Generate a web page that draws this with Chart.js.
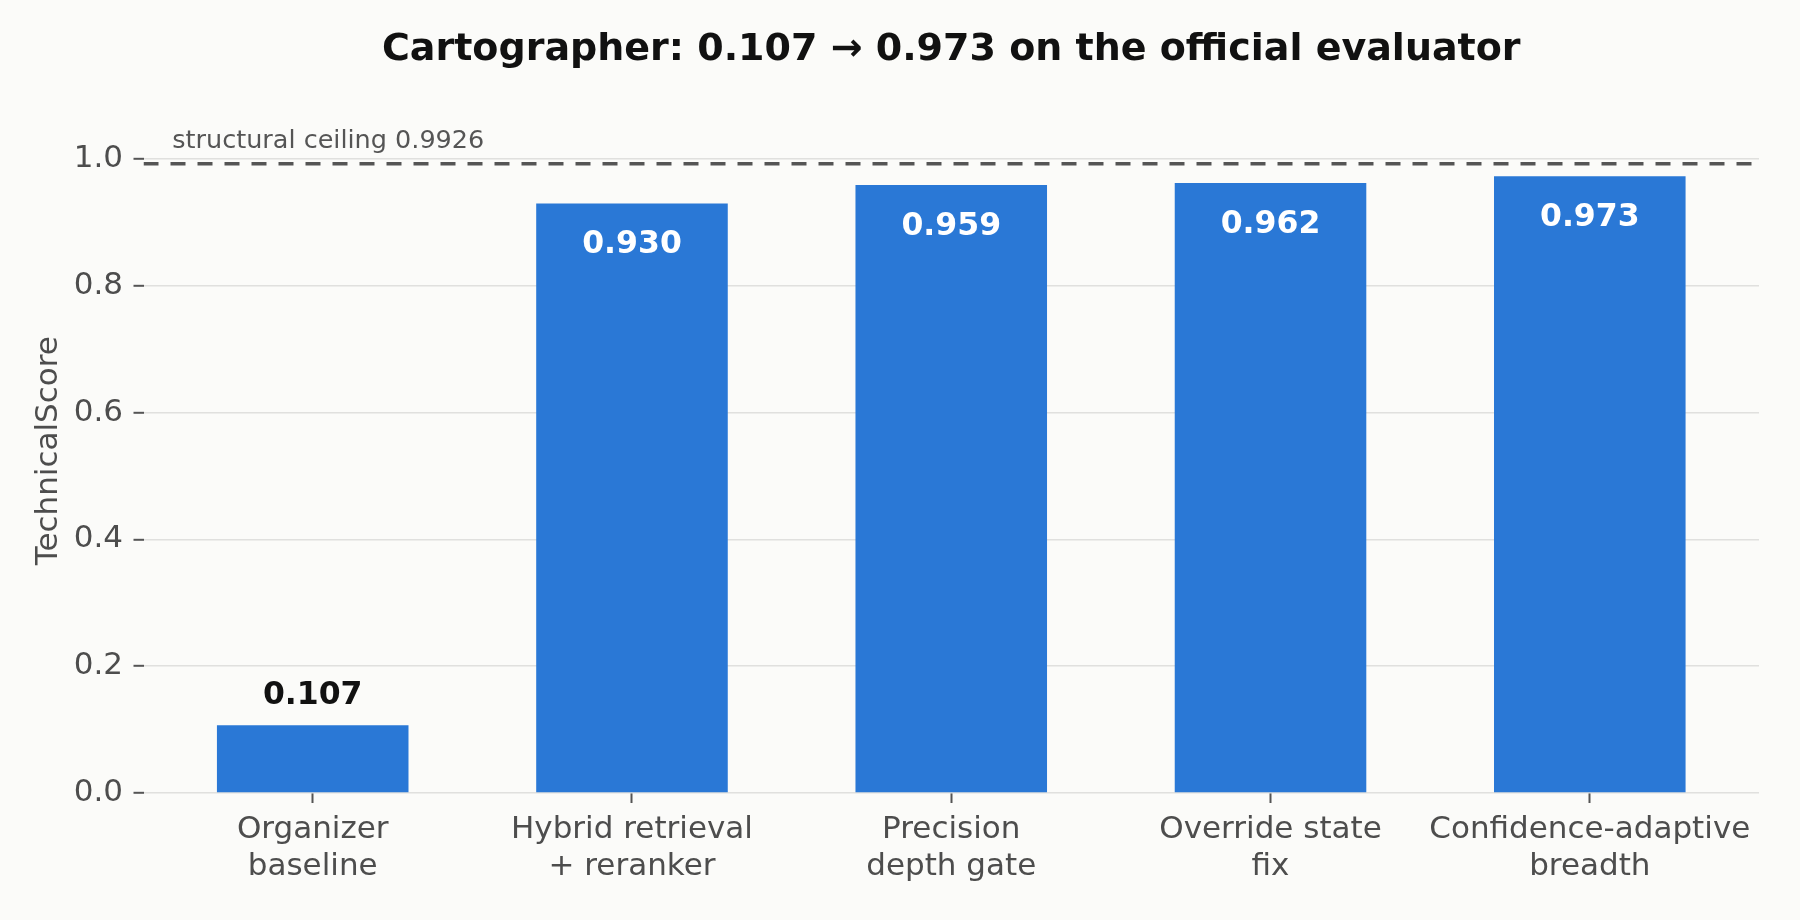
<!DOCTYPE html>
<html>
<head>
<meta charset="utf-8">
<script src="https://cdn.jsdelivr.net/npm/chart.js@4.4.1/dist/chart.umd.min.js"></script>
<style>
    html, body { margin: 0; padding: 0; background: #fbfbf9; }
    #wrap { width: 1800px; height: 920px; }
</style>
</head>
<body>
<div id="wrap"><canvas id="scoreChart" width="1800" height="920"></canvas></div>
<script>
// --- DATA ---
const categories = [
    ['Organizer', 'baseline'],
    ['Hybrid retrieval', '+ reranker'],
    ['Precision', 'depth gate'],
    ['Override state', 'fix'],
    ['Confidence-adaptive', 'breadth']
];
const scores = [0.107, 0.930, 0.959, 0.962, 0.973];
const yTicks = [0, 0.2, 0.4, 0.6, 0.8, 1.0];
const ceiling = 0.9926;
const ceilingLabel = 'structural ceiling 0.9926';
const chartTitle = 'Cartographer: 0.107 \u2192 0.973 on the official evaluator';
const yLabel = 'TechnicalScore';

const X_MIN = -0.53, X_MAX = 4.53, Y_MAX = 1.08;
const FONT = '"DejaVu Sans", sans-serif';
const BAR_BLUE = '#2a78d6';
const TEXT_GREY = '#4d4d4d';

// value labels on bars + ceiling caption
const labelPlugin = {
    id: 'barLabels',
    afterDatasetsDraw(chart) {
        const ctx = chart.ctx;
        const meta = chart.getDatasetMeta(0);
        ctx.save();
        ctx.font = `bold 31.5px ${FONT}`;
        ctx.textAlign = 'center';
        ctx.textBaseline = 'alphabetic';
        meta.data.forEach((bar, i) => {
            const v = scores[i];
            if (v > 0.5) {
                ctx.fillStyle = '#ffffff';
                ctx.fillText(v.toFixed(3), bar.x, bar.y + 49.5);
            } else {
                ctx.fillStyle = '#111111';
                ctx.fillText(v.toFixed(3), bar.x, bar.y - 21);
            }
        });

        const xs = chart.scales.x, ys = chart.scales.y;
        ctx.font = `25.5px ${FONT}`;
        ctx.textAlign = 'left';
        ctx.fillStyle = '#555555';
        ctx.fillText(ceilingLabel, xs.getPixelForValue(-0.44), ys.getPixelForValue(ceiling) - 15.5);
        ctx.restore();
    }
};

new Chart(document.getElementById('scoreChart').getContext('2d'), {
    type: 'bar',
    data: {
        datasets: [{
            type: 'bar',
            data: scores.map((v, i) => ({ x: i, y: v })),
            backgroundColor: BAR_BLUE,
            borderWidth: 0,
            categoryPercentage: 1.0,
            barPercentage: 0.6,
            order: 2
        }, {
            type: 'line',
            data: [{ x: X_MIN, y: ceiling }, { x: X_MAX, y: ceiling }],
            borderColor: '#555555',
            borderWidth: 3.6,
            borderDash: [15, 12],
            pointRadius: 0,
            fill: false,
            order: 1
        }]
    },
    options: {
        responsive: false,
        animation: false,
        devicePixelRatio: 1,
        layout: { padding: { left: 0, right: 41, top: 0, bottom: 0 } },
        plugins: {
            legend: { display: false },
            tooltip: { enabled: false },
            title: {
                display: true,
                text: chartTitle,
                fullSize: false,
                color: '#111111',
                font: { family: FONT, size: 38, weight: 'bold' },
                padding: { top: 27, bottom: 35.7 }
            }
        },
        scales: {
            x: {
                type: 'linear',
                min: X_MIN,
                max: X_MAX,
                offset: false,
                afterBuildTicks: axis => { axis.ticks = categories.map((c, i) => ({ value: i })); },
                afterFit: axis => { axis.height = 127; },
                border: { display: false },
                grid: {
                    offset: false,
                    drawOnChartArea: false,
                    drawTicks: true,
                    tickLength: 10,
                    tickColor: '#555555',
                    tickWidth: 2
                },
                ticks: {
                    color: TEXT_GREY,
                    padding: 8.6,
                    maxRotation: 0,
                    autoSkip: false,
                    font: { family: FONT, size: 31, lineHeight: 1.2 },
                    callback: v => categories[v]
                }
            },
            y: {
                min: 0,
                max: Y_MAX,
                afterBuildTicks: axis => { axis.ticks = yTicks.map(v => ({ value: v })); },
                afterFit: axis => { axis.width = 143.5; },
                border: { display: false },
                grid: {
                    color: '#e0e0de',
                    lineWidth: 1.6,
                    drawTicks: true,
                    tickLength: 10,
                    tickColor: '#555555',
                    tickWidth: 2
                },
                ticks: {
                    color: TEXT_GREY,
                    padding: 10.5,
                    font: { family: FONT, size: 31 },
                    callback: v => v.toFixed(1)
                },
                title: {
                    display: true,
                    text: yLabel,
                    color: TEXT_GREY,
                    font: { family: FONT, size: 31 },
                    padding: { top: 30, bottom: 0 }
                }
            }
        }
    },
    plugins: [labelPlugin]
});
</script>
</body>
</html>
